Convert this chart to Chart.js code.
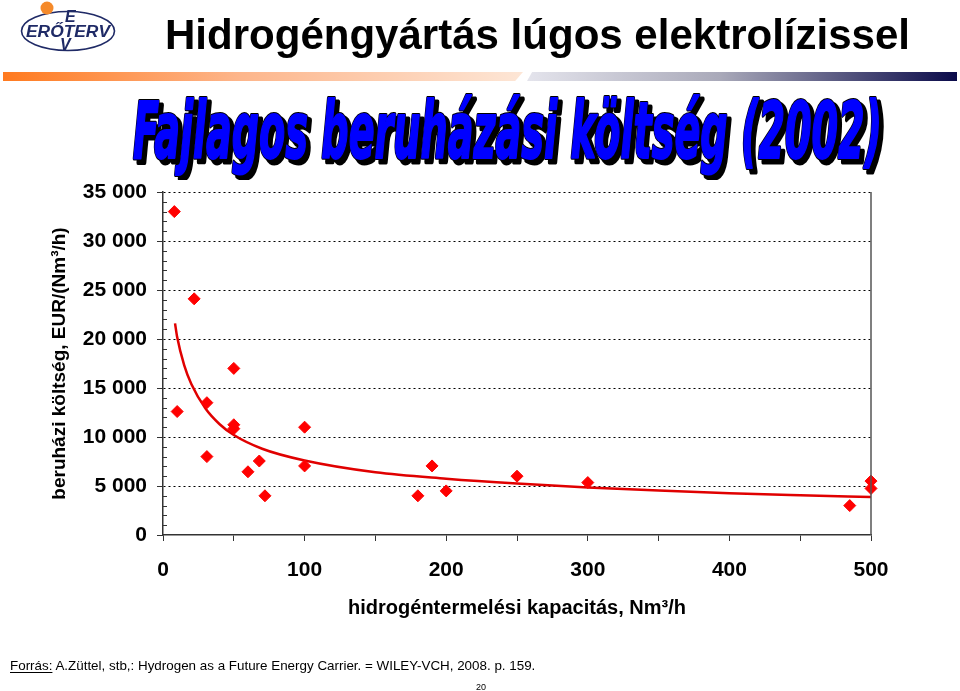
<!DOCTYPE html>
<html lang="hu">
<head>
<meta charset="UTF-8" />
<title>Hidrogéngyártás lúgos elektrolízissel</title>
<script src="https://cdn.jsdelivr.net/npm/chart.js"></script>
<style>
  html, body { margin: 0; padding: 0; background: #fff; }
  body { width: 960px; height: 691px; position: relative; overflow: hidden; font-family: "Liberation Sans", Arial, sans-serif; }
  #myChart { position: absolute; left: 0; top: 0; }
  .abs { position: absolute; white-space: nowrap; }
  #barL { left: 3px; top: 72px; width: 520px; height: 9px;
    background: linear-gradient(to right, #ff7a1f, #fdb58a 45%, #fde6d6);
    clip-path: polygon(0 0, 100% 0, 98.5% 100%, 0 100%); }
  #barR { left: 527px; top: 72px; width: 430px; height: 9px;
    background: linear-gradient(to right, #e4e4ec, #a9a9b9 45%, #0a0a4a);
    clip-path: polygon(1.2% 0, 100% 0, 100% 100%, 0 100%); }
  #footer { left: 10px; top: 658px; font-size: 13.4px; color: #000; }
  #footer u { text-underline-offset: 2px; }
  #page { left: 476px; top: 682px; font-size: 9px; color: #000; }
</style>
</head>
<body>
<canvas id="myChart" width="960" height="691"></canvas>

<svg class="abs" style="left:0;top:0" width="130" height="60" viewBox="0 0 130 60">
  <ellipse cx="68" cy="31" rx="46.5" ry="19.5" fill="none" stroke="#1f2a66" stroke-width="1.6" />
  <circle cx="47" cy="8" r="6.5" fill="#f58a2a" />
  <g font-family="Liberation Sans, Arial" font-style="italic" font-weight="bold" font-size="16" fill="#1f2a66">
    <text x="65" y="22">E</text>
    <text x="26" y="37" textLength="84" lengthAdjust="spacingAndGlyphs">ERŐTERV</text>
    <text x="60" y="50">V</text>
  </g>
</svg>

<svg class="abs" style="left:0;top:0" width="960" height="60">
  <text x="165" y="49" textLength="745" lengthAdjust="spacingAndGlyphs"
    font-family="Liberation Sans, Arial" font-weight="bold" font-size="43" fill="#000">Hidrogéngyártás lúgos elektrolízissel</text>
</svg>

<div id="barL" class="abs"></div>
<div id="barR" class="abs"></div>

<svg class="abs" style="left:0;top:85px" width="960" height="95">
  <g font-family="Liberation Sans Narrow, DejaVu Sans Condensed, sans-serif" font-weight="bold" font-style="italic" font-size="78">
    <text x="137" y="77" textLength="749" lengthAdjust="spacingAndGlyphs" fill="#000" stroke="#000" stroke-width="5" stroke-linejoin="round">Fajlagos beruházási költség (2002)</text>
    <text x="133" y="73" textLength="749" lengthAdjust="spacingAndGlyphs" fill="#0000ff" stroke="#000" stroke-width="4" stroke-linejoin="round">Fajlagos beruházási költség (2002)</text>
    <text x="133" y="73" textLength="749" lengthAdjust="spacingAndGlyphs" fill="#0000ff" stroke="#0000ff" stroke-width="2" stroke-linejoin="round">Fajlagos beruházási költség (2002)</text>
  </g>
</svg>

<div id="footer" class="abs"><u>Forrás:</u> A.Züttel, stb,: Hydrogen as a Future Energy Carrier. = WILEY-VCH, 2008. p. 159.</div>
<div id="page" class="abs">20</div>

<script>
  // measured points: capacity (Nm3/h) and specific investment cost (EUR/(Nm3/h))
  const capacity = [8, 10, 22, 31, 31, 50, 50, 50, 60, 68, 72, 100, 100, 180, 190, 200, 250, 300, 485, 500, 500];
  const cost = [33000, 12600, 24100, 13500, 8000, 17000, 11250, 10850, 6450, 7550, 4000, 11000, 7050, 4000, 7050, 4500, 6000, 5350, 3000, 5500, 4750];

  // trend line
  const trendX = [8.5, 10, 15, 20, 30, 40, 50, 70, 100, 150, 200, 250, 300, 350, 400, 450, 500];
  const trendY = [21600, 20200, 17300, 15400, 12900, 11300, 10200, 8800, 7600, 6400, 5750, 5250, 4850, 4530, 4250, 4050, 3880];

  const yTickLabels = ["0", "5 000", "10 000", "15 000", "20 000", "25 000", "30 000", "35 000"];
  const xTickLabels = ["0", "100", "200", "300", "400", "500"];

  const frame = {
    id: "frame",
    afterDraw(chart) {
      const { ctx, chartArea: a, scales: { y } } = chart;
      ctx.save();
      ctx.strokeStyle = "#333";
      ctx.lineWidth = 1;
      // minor ticks inside the y axis
      for (let v = 1000; v < 35000; v += 1000) {
        if (v % 5000 === 0) continue;
        const py = Math.round(y.getPixelForValue(v)) + 0.5;
        ctx.beginPath();
        ctx.moveTo(a.left, py);
        ctx.lineTo(a.left + 4, py);
        ctx.stroke();
      }
      // right border
      ctx.strokeStyle = "#555";
      ctx.lineWidth = 1.5;
      ctx.beginPath();
      ctx.moveTo(a.right, a.top);
      ctx.lineTo(a.right, a.bottom);
      ctx.stroke();
      ctx.restore();
    }
  };

  const tickFont = { family: "Liberation Sans, Arial", size: 21, weight: "bold" };

  new Chart(document.getElementById("myChart"), {
    data: {
      datasets: [
        {
          type: "scatter",
          data: capacity.map((x, i) => ({ x, y: cost[i] })),
          pointStyle: "rectRot",
          pointRadius: 6,
          backgroundColor: "#ff0000",
          borderColor: "#ff0000",
          borderWidth: 1,
          clip: false,
          order: 1
        },
        {
          type: "line",
          data: trendX.map((x, i) => ({ x, y: trendY[i] })),
          borderColor: "#e00000",
          borderWidth: 2.5,
          pointRadius: 0,
          cubicInterpolationMode: "monotone",
          fill: false,
          order: 2
        }
      ]
    },
    options: {
      responsive: false,
      animation: false,
      layout: { padding: { left: 0, right: 89, top: 192, bottom: 71 } },
      plugins: { legend: { display: false }, tooltip: { enabled: false } },
      scales: {
        x: {
          type: "linear",
          min: 0,
          max: 500,
          afterFit: s => { s.height = 85; },
          border: { color: "#333", width: 1.5 },
          grid: { drawOnChartArea: false, tickLength: 6, tickColor: "#333" },
          ticks: {
            stepSize: 50,
            autoSkip: false,
            maxRotation: 0,
            padding: 17,
            color: "#000",
            font: tickFont,
            callback: v => (v % 100 === 0 ? xTickLabels[v / 100] : "")
          },
          title: {
            display: true,
            text: "hidrogéntermelési kapacitás, Nm³/h",
            color: "#000",
            font: { family: "Liberation Sans, Arial", size: 20, weight: "bold" },
            padding: 0
          }
        },
        y: {
          type: "linear",
          min: 0,
          max: 35000,
          afterFit: s => { s.width = 163; },
          border: { color: "#333", width: 1.5, dash: [2, 3] },
          grid: {
            tickLength: 6,
            lineWidth: 1,
            color: c => (c.tick && c.tick.value % 5000 === 0 && c.tick.value > 0 ? "#000" : "transparent"),
            tickColor: c => (c.tick && c.tick.value % 5000 === 0 ? "#333" : "transparent"),
            tickBorderDash: []
          },
          ticks: {
            stepSize: 1000,
            autoSkip: false,
            padding: 10,
            color: "#000",
            font: tickFont,
            callback: v => (v % 5000 === 0 ? yTickLabels[v / 5000] : "")
          },
          title: {
            display: true,
            text: "beruházi költség, EUR/(Nm³/h)",
            color: "#000",
            font: { family: "Liberation Sans, Arial", size: 19, weight: "bold" },
            padding: { top: 48, bottom: 0 }
          }
        }
      }
    },
    plugins: [frame]
  });
</script>
</body>
</html>
